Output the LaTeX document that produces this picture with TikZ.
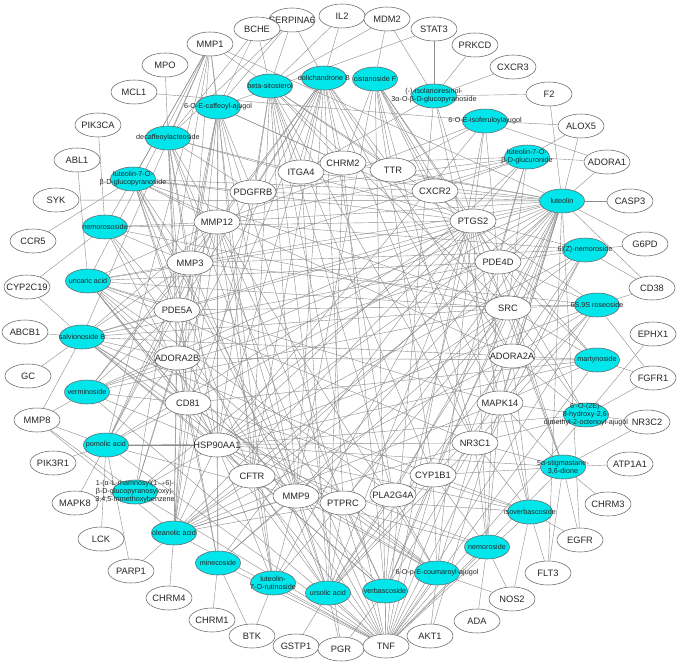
\documentclass[tikz,border=0pt]{standalone}
\usepackage{fontspec}
\setmainfont{Liberation Sans}
\usetikzlibrary{shapes.geometric}
\pgfdeclarelayer{back}
\pgfdeclarelayer{bg}
\pgfsetlayers{back,bg,main}
\definecolor{cy}{RGB}{0,230,235}
\definecolor{edg}{RGB}{140,140,140}
\tikzset{
 tgt/.style={ellipse, draw=black!60, line width=0.55pt, fill=white, minimum width=46pt, minimum height=24pt, inner sep=0pt},
 ttxt/.style={font=\fontsize{9.3}{10}\selectfont, inner sep=0pt, text=black!85},
 cmp/.style={ellipse, draw=black!60, line width=0.55pt, fill=cy, minimum width=45pt, minimum height=24pt, inner sep=0pt},
 ctxt/.style={font=\fontsize{7.2}{7.9}\selectfont, align=center, inner sep=0pt, text=black!85},
 lnk/.style={draw=edg, line width=0.4pt}
}
\newcommand\tgnode[4]{\node[tgt] (#1) at (#2,#3) {}; \node[ttxt] (#1t) at (#1) {#4};}
\newcommand\cpnode[4]{\node[cmp] (#1) at (#2,#3) {}; \node[ctxt] (#1t) at (#1) {#4};}
\newcommand\links[2]{\foreach \t in {#2} {\draw[lnk] (#1) -- (\t);}}
\begin{document}
\begin{tikzpicture}[x=1pt,y=-1pt]
\begin{pgfonlayer}{back}
\fill[white] (0,0) rectangle (685,666);
\end{pgfonlayer}
\useasboundingbox (0,0) rectangle (685,666);
% outer targets
\tgnode{il2}{342}{16}{IL2}
\tgnode{serpina6}{292}{20}{SERPINA6}
\tgnode{mdm2}{387}{19}{MDM2}
\tgnode{bche}{257}{29}{BCHE}
\tgnode{stat3}{434}{29}{STAT3}
\tgnode{mmp1}{210}{44}{MMP1}
\tgnode{prkcd}{475}{45}{PRKCD}
\tgnode{mpo}{165}{65}{MPO}
\tgnode{cxcr3}{513}{67}{CXCR3}
\tgnode{mcl1}{134}{92}{MCL1}
\tgnode{f2}{549}{94}{F2}
\tgnode{pik3ca}{98}{125}{PIK3CA}
\tgnode{alox5}{581}{126}{ALOX5}
\tgnode{abl1}{77}{160}{ABL1}
\tgnode{adora1}{607}{162}{ADORA1}
\tgnode{syk}{56}{200}{SYK}
\tgnode{casp3}{630}{201}{CASP3}
\tgnode{ccr5}{33}{241}{CCR5}
\tgnode{cyp2c19}{27}{287}{CYP2C19}
\tgnode{abcb1}{25}{332}{ABCB1}
\tgnode{gc}{28}{376}{GC}
\tgnode{mmp8}{37}{420}{MMP8}
\tgnode{pik3r1}{53}{463}{PIK3R1}
\tgnode{mapk8}{75}{503}{MAPK8}
\tgnode{lck}{101}{539}{LCK}
\tgnode{parp1}{131}{571}{PARP1}
\tgnode{chrm4}{169}{598}{CHRM4}
\tgnode{chrm1}{212}{620}{CHRM1}
\tgnode{btk}{252}{636}{BTK}
\tgnode{gstp1}{296}{646}{GSTP1}
\tgnode{pgr}{341}{649}{PGR}
\tgnode{tnf}{386}{646}{TNF}
\tgnode{akt1}{430}{636}{AKT1}
\tgnode{ada}{477}{621}{ADA}
\tgnode{nos2}{512}{599}{NOS2}
\tgnode{flt3}{548}{573}{FLT3}
\tgnode{egfr}{580}{540}{EGFR}
\tgnode{chrm3}{608}{504}{CHRM3}
\tgnode{atp1a1}{630}{464}{ATP1A1}
\tgnode{nr3c2}{647}{422}{NR3C2}
\tgnode{fgfr1}{653}{378}{FGFR1}
\tgnode{ephx1}{653}{334}{EPHX1}
\tgnode{cd38}{652}{288}{CD38}
\tgnode{g6pd}{645}{244}{G6PD}
% inner targets
\tgnode{pdgfrb}{253}{192}{PDGFRB}
\tgnode{itga4}{301}{172}{ITGA4}
\tgnode{chrm2}{343}{163}{CHRM2}
\tgnode{ttr}{393}{170}{TTR}
\tgnode{cxcr2}{435}{191}{CXCR2}
\tgnode{mmp12}{217}{222}{MMP12}
\tgnode{ptgs2}{473}{221}{PTGS2}
\tgnode{pde4d}{498}{262}{PDE4D}
\tgnode{mmp3}{190}{263}{MMP3}
\tgnode{pde5a}{177}{310}{PDE5A}
\tgnode{src}{508}{308}{SRC}
\tgnode{adora2b}{177}{358}{ADORA2B}
\tgnode{adora2a}{512}{356}{ADORA2A}
\tgnode{cd81}{188}{403}{CD81}
\tgnode{mapk14}{500}{403}{MAPK14}
\tgnode{hsp90}{217}{445}{HSP90AA1}
\tgnode{nr3c1}{475}{443}{NR3C1}
\tgnode{cftr}{252}{476}{CFTR}
\tgnode{cyp1b1}{433}{475}{CYP1B1}
\tgnode{mmp9}{296}{496}{MMP9}
\tgnode{ptprc}{343}{503}{PTPRC}
\tgnode{pla2g4a}{393}{495}{PLA2G4A}
% compounds
\cpnode{bsit}{270}{86}{beta-sitosterol}
\cpnode{dolB}{324}{78}{dolichandrone B}
\cpnode{cisF}{375}{79}{cistanoside F}
\cpnode{isol}{434}{96}{(-)-isolariciresinol-\\3α-O-β-D-glucopyranoside}
\cpnode{caff}{218}{107}{6-O-E-caffeoyl-ajugol}
\cpnode{decaf}{168}{138}{decaffeoylacteoside}
\cpnode{isofer}{485}{121}{6-O-E-isoferuloylajugol}
\cpnode{lglucu}{527}{157}{luteolin-7-O-\\β-D-glucuronide}
\cpnode{lglcp}{133}{179}{luteolin-7-O-\\β-D-glucopyranoside}
\cpnode{lut}{562}{201}{luteolin}
\cpnode{nemoso}{105}{227}{nemorososide}
\cpnode{uncaric}{88}{281}{uncaric acid}
\cpnode{salv}{82}{337}{salvionoside B}
\cpnode{zNem}{585}{250}{6'(Z)-nemoroside}
\cpnode{ross}{597}{305}{6S,9S roseoside}
\cpnode{marty}{597}{360}{martynoside}
\cpnode{octen}{586}{415}{6'-O-(2E)-\\8-hydroxy-2,6-\\dimethyl-2-octenoyl-ajugol}
\cpnode{stig}{563}{467}{5α-stigmastane-\\3,6-dione}
\cpnode{isoverb}{530}{512}{isoverbascoside}
\cpnode{nemor}{487}{547}{nemoroside}
\cpnode{coum}{437}{573}{6-O-p-E-coumaroyl-ajugol}
\cpnode{verb}{385}{591}{verbascoside}
\cpnode{urs}{328}{593}{ursolic acid}
\cpnode{lrut}{273}{583}{luteolin-\\7-O-rutinoside}
\cpnode{mine}{218}{563}{minecoside}
\cpnode{olean}{174}{533}{oleanolic acid}
\cpnode{rham}{135}{492}{1-(α-L-rhamnosyl(1$\to$6)-\\β-D-glucopyranosyloxy)-\\3,4,5-trimethoxybenzene}
\cpnode{pomolic}{106}{445}{pomolic acid}
\cpnode{vermin}{87}{392}{verminoside}
\begin{pgfonlayer}{bg}
\links{lut}{alox5,adora1,casp3,g6pd,cd38,f2,syk,ptgs2,pde4d,src,adora2a,mapk14,cxcr2,ttr,chrm2,mmp12,mmp3,mmp9,tnf,akt1,hsp90,nr3c1,cyp1b1,egfr,flt3,pla2g4a,itga4,pdgfrb,mmp1,ptprc,pde5a,adora2b,cd81,cftr}
\links{lglucu}{adora1,alox5,ptgs2,pde4d,mmp12,cxcr2,chrm2,tnf,src,mmp3,hsp90,pdgfrb}
\links{isofer}{alox5,mcl1,ptgs2,tnf,mmp12,ttr,hsp90,pde4d,adora1}
\links{isol}{f2,cxcr3,prkcd,ptgs2,mapk14,tnf,stat3,mdm2,itga4}
\links{cisF}{ttr,chrm2,mdm2,ptgs2,cxcr2,nr3c1,tnf,src,mmp9,adora2a,pde4d,cyp1b1}
\links{dolB}{serpina6,il2,chrm2,itga4,ttr,pdgfrb,mmp12,mmp3,pde5a,hsp90,nr3c1,ptprc,mmp9,cd81,adora2b,adora2a,cftr,pla2g4a,mapk14}
\links{bsit}{serpina6,bche,mmp1,itga4,chrm2,pdgfrb,ptgs2,ttr,src,hsp90,mmp9,cftr,pgr,nr3c1,tnf,cyp1b1,pla2g4a,mdm2,il2}
\links{caff}{mmp1,serpina6,bche,mmp12,pdgfrb,mmp3,pde5a,adora2b,cd81,hsp90,cftr,mmp9,tnf,ptgs2,chrm2,stat3}
\links{decaf}{mmp1,mpo,mmp12,mmp3,pde5a,adora2b,pdgfrb,itga4,hsp90,cd81,tnf,ptgs2,mmp9,serpina6,bche}
\links{lglcp}{ccr5,mmp1,mmp12,pdgfrb,mmp3,pde5a,ptgs2,hsp90,src,adora2a,cxcr2,tnf,mmp9,cftr}
\links{nemoso}{pik3ca,cyp2c19,mmp12,mmp3,ptgs2,hsp90,mmp1,pde5a,src,tnf}
\links{uncaric}{abl1,mmp12,mmp3,pde5a,adora2b,pde4d,src,ptgs2,mmp9,tnf,nr3c1,hsp90,mmp1,cd81,mapk14,pla2g4a}
\links{salv}{cyp2c19,abcb1,gc,mmp8,mmp12,mmp3,pde5a,adora2b,adora2a,src,cd81,ptgs2,hsp90,pde4d,mmp1,mmp9,cftr,ptprc,cyp1b1}
\links{vermin}{mmp8,adora2b,pde5a,mmp3,cd81,hsp90,ptgs2,src,mmp12,pde4d,tnf}
\links{pomolic}{pik3r1,mapk8,lck,parp1,mmp8,hsp90,cd81,adora2b,mmp12,mmp3,pde5a,ptgs2,nr3c1,tnf,mmp9,mmp1}
\links{rham}{mapk8,hsp90,mmp8,ptgs2,mmp12,mmp1,adora2b,tnf}
\links{olean}{parp1,chrm4,mmp8,hsp90,cd81,mmp12,mmp3,pde5a,adora2b,ptgs2,nr3c1,mapk14,adora2a,src,pde4d,tnf,mmp9,cftr,mmp1,pdgfrb,ptprc}
\links{mine}{chrm1,btk,hsp90,mmp12,cd81,ptgs2,tnf,mmp9,adora2b,src}
\links{lrut}{btk,hsp90,mmp9,ptgs2,tnf,src,cftr,mmp1,mmp12}
\links{urs}{gstp1,pgr,tnf,ptprc,mmp9,cftr,hsp90,pla2g4a,ptgs2,nr3c1,src,mmp12,mmp3,chrm2,itga4,mapk14,adora2a}
\links{verb}{tnf,pgr,ptgs2,pla2g4a,cyp1b1,mmp9,ptprc,nr3c1,hsp90,src,mmp12,chrm2,cftr}
\links{coum}{akt1,tnf,nos2,cyp1b1,pla2g4a,ptprc,hsp90,nr3c1,ptgs2,mmp9,mmp12,cd81,adora2b}
\links{nemor}{ada,nos2,tnf,cyp1b1,nr3c1,mapk14,ptgs2,hsp90,mmp9,pde4d}
\links{isoverb}{nos2,flt3,egfr,nr3c1,cyp1b1,mapk14,ptgs2,tnf,hsp90,adora2a,mmp9,cd81}
\links{stig}{atp1a1,chrm3,egfr,flt3,nr3c1,nr3c2,cyp1b1,ptgs2,hsp90,src,mapk14,tnf,pde4d}
\links{octen}{nr3c2,ephx1,mapk14,adora2a,hsp90,nr3c1,ptgs2,tnf,src,fgfr1}
\links{marty}{fgfr1,adora2a,src,mapk14,ptgs2,tnf,hsp90,pde4d,cd81,adora2b}
\links{ross}{cd38,fgfr1,src,pde4d,adora2a,ptgs2,mapk14,hsp90,nr3c1,tnf,mmp3,pde5a}
\links{zNem}{g6pd,cd38,pde4d,src,ptgs2,adora2a,mapk14,hsp90,tnf,mmp12,mmp3}
\end{pgfonlayer}
\end{tikzpicture}
\end{document}
